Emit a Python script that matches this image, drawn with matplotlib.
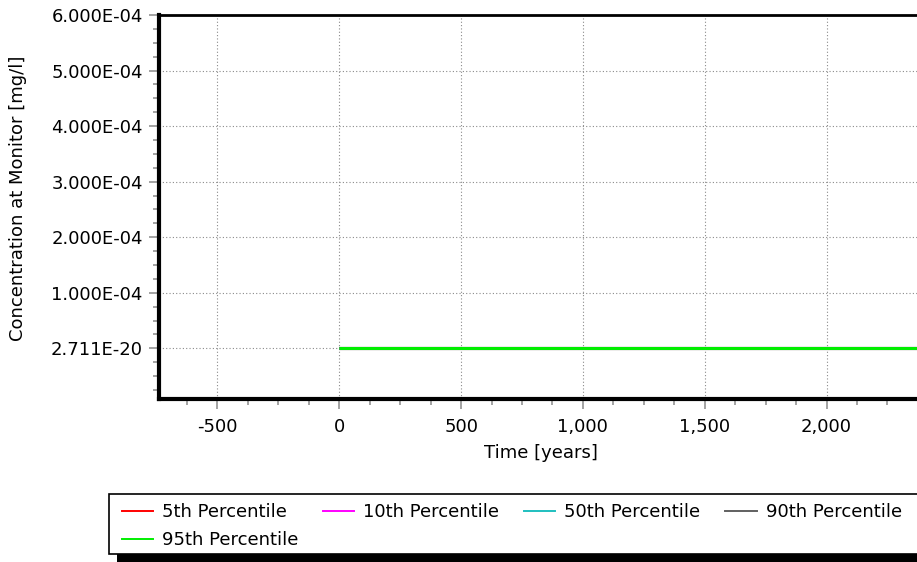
import matplotlib
matplotlib.use("Agg")
import matplotlib.pyplot as plt
from matplotlib.ticker import FixedLocator, FixedFormatter, AutoMinorLocator
from matplotlib.lines import Line2D
from matplotlib.patches import Rectangle

plt.rcParams['font.family'] = ['DejaVu Sans']
FS = 13

# ---- data ----
time_years = [0, 500, 1000, 1500, 2000, 2400]
p5 = [0, 0, 0, 0, 0, 0]
p10 = [0, 0, 0, 0, 0, 0]
p50 = [0, 0, 0, 0, 0, 0]
p90 = [0, 0, 0, 0, 0, 0]
p95 = [0, 0, 0, 0, 0, 0]
series_names = ["5th Percentile", "10th Percentile", "50th Percentile",
                "90th Percentile", "95th Percentile"]
series_colors = ["#ff0000", "#ff00ff", "#1fbfbf", "#606060", "#00ee00"]

xticks = [-500, 0, 500, 1000, 1500, 2000]
xtick_labels = ["-500", "0", "500", "1,000", "1,500", "2,000"]
yticks = [0, 1e-4, 2e-4, 3e-4, 4e-4, 5e-4, 6e-4]
ytick_labels = ["2.711E-20", "1.000E-04", "2.000E-04", "3.000E-04",
                "4.000E-04", "5.000E-04", "6.000E-04"]

W, H = 917, 562
fig = plt.figure(figsize=(W / 100, H / 100), dpi=100)
L, R, T, B = 158.7, 924.0, 15.0, 398.7
ax = fig.add_axes([L / W, 1 - B / H, (R - L) / W, (B - T) / H])

series = [p5, p10, p50, p90, p95]
for vals, name, col in zip(series, series_names, series_colors):
    ax.plot(time_years, vals, color=col, lw=2.2, label=name, solid_capstyle='butt')

ax.set_xlim(-741, 2400)
ax.set_ylim(-0.907e-4, 6e-4)

ax.xaxis.set_major_locator(FixedLocator(xticks))
ax.xaxis.set_major_formatter(FixedFormatter(xtick_labels))
ax.yaxis.set_major_locator(FixedLocator(yticks))
ax.yaxis.set_major_formatter(FixedFormatter(ytick_labels))
ax.xaxis.set_minor_locator(AutoMinorLocator(4))
ax.yaxis.set_minor_locator(AutoMinorLocator(4))

ax.grid(True, which='major', color='#8a8a8a', linestyle=(0, (1, 2)), linewidth=0.8)
ax.set_axisbelow(True)

ax.tick_params(which='major', length=7.5, width=1.1, color='#8a8a8a',
               labelsize=FS, pad=4)
ax.tick_params(axis='x', which='major', pad=6.5)
ax.tick_params(which='minor', length=4.5, width=1.1, color='#8a8a8a')

for s in ['left', 'bottom']:
    ax.spines[s].set_linewidth(3)
    ax.spines[s].set_color('black')
ax.spines['top'].set_linewidth(2)
ax.spines['top'].set_color('black')
ax.spines['right'].set_visible(False)

ax.set_xlabel("Time [years]", fontsize=FS)
ax.set_ylabel("Concentration at Monitor [mg/l]", fontsize=FS)
ax.xaxis.set_label_coords(0.5, -0.117)
ax.yaxis.set_label_coords(-0.172, 0.523)

# legend box with shadow
def frect(x0, y0, x1, y1, **kw):
    r = Rectangle((x0 / W, 1 - y1 / H), (x1 - x0) / W, (y1 - y0) / H,
                  transform=fig.transFigure, **kw)
    fig.patches.append(r)
    return r

frect(117, 502, 940, 566, facecolor='black', edgecolor='none', zorder=1)
frect(109, 494, 932, 554, facecolor='white', edgecolor='black', lw=1.2, zorder=2)

handles = [Line2D([], [], color=c, lw=1.4) for c in series_colors]
order = [0, 4, 1, 2, 3]
leg = fig.legend([handles[i] for i in order], [series_names[i] for i in order],
                 ncol=4, loc='upper left',
                 bbox_to_anchor=(122 / W, 1 - 503 / H),
                 frameon=False, fontsize=FS, handlelength=1.72,
                 handletextpad=0.5, columnspacing=1.38, labelspacing=0.57,
                 borderpad=0, borderaxespad=0)
leg.set_zorder(5)

fig.savefig("out.png", dpi=100)
